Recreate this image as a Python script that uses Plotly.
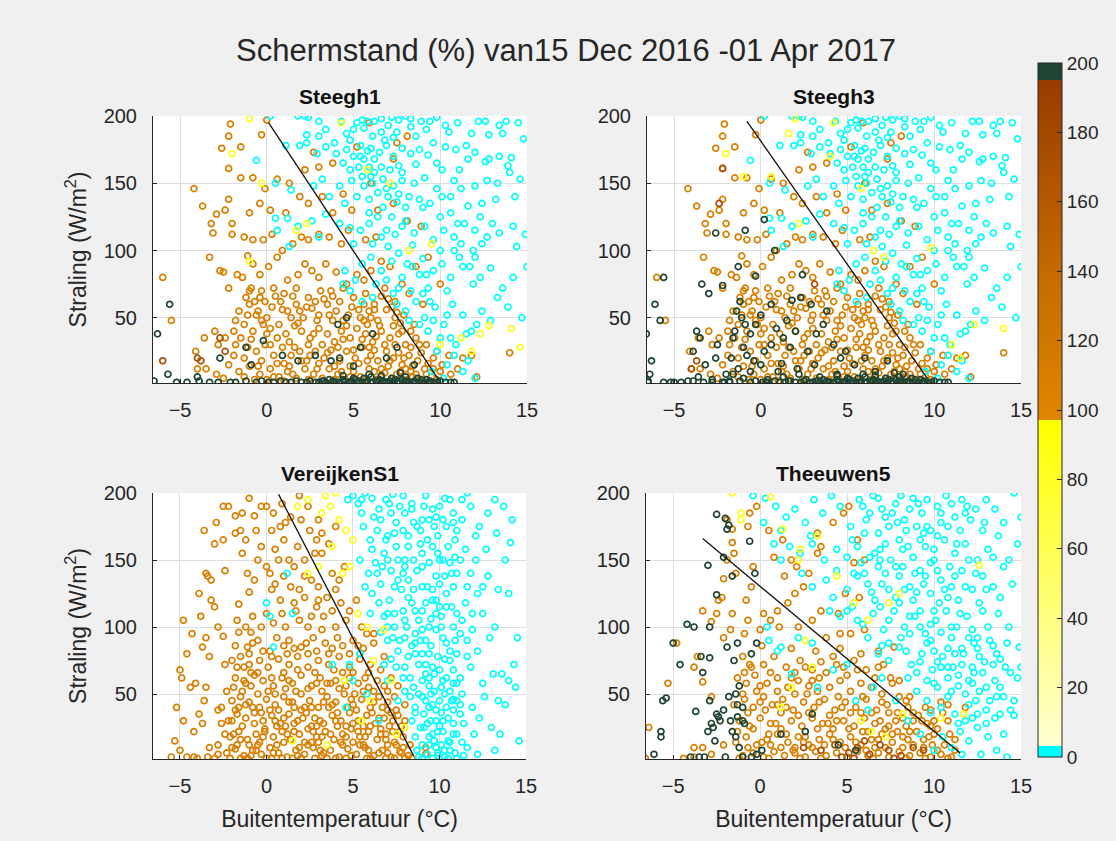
import plotly.graph_objects as go

# ---------------- data (approximate) ----------------
TITLE = "Schermstand (%) van15 Dec 2016 -01 Apr 2017"
PANEL_NAMES = ["Steegh1", "Steegh3", "VereijkenS1", "Theeuwen5"]
X_TICKS = [-5, 0, 5, 10, 15]
Y_TICKS = [50, 100, 150, 200]
CBAR_TICKS = [0, 20, 40, 60, 80, 100, 120, 140, 160, 180, 200]

# screen position (%) per class
VAL_CYAN, VAL_YELLOW, VAL_ORANGE, VAL_BROWN, VAL_GREEN = 0, 88, 108, 172, 200

# ---- Steegh1 / Steegh3 share the same weather (x: temp, y: radiation) ----
S1_cyan = [(0.2,200),(1.8,200),(2.2,200),(2.4,199),(3.0,196),(4.3,196),(5.2,195),(5.5,197),(5.8,196),(6.2,196),
 (6.6,198),(7.2,199),(7.6,197),(8.0,200),(8.3,198),(8.9,196),(9.4,196),(9.8,199),(10.3,193),(11.0,195),(12.2,196),
 (12.6,196),(13.4,193),(13.8,196),(14.5,195),(2.3,186),(3.4,190),(4.6,187),(5.0,190),(5.6,191),(6.1,185),(6.6,188),
 (7.0,193),(7.5,188),(8.3,192),(9.2,190),(10.5,188),(11.8,187),(12.8,186),(13.6,187),(14.8,183),
 (1.9,178),(2.3,180),(3.4,177),(4.0,172),(4.6,175),(5.0,170),(5.4,170),(5.8,174),(6.2,168),(6.5,173),(6.9,178),
 (7.3,170),(7.8,176),(8.3,172),(8.8,175),(9.3,171),(9.8,165),(10.3,177),(10.9,175),(11.5,178),(12.0,173),(12.8,168),
 (13.4,170),(14.1,169),(4.4,165),(5.3,162),(5.9,162),(6.6,162),(7.6,163),(8.6,164),(10.1,160),(11.1,160),(12.6,166),
 (13.9,163),(-0.6,167),(1.1,178),(2.9,172),
 (3.2,153),(4.2,148),(4.9,152),(5.5,155),(6.1,150),(6.7,153),(7.3,148),(7.8,152),(8.5,150),(9.1,154),(9.8,146),
 (10.6,140),(11.2,146),(12.0,148),(12.7,152),(13.3,150),(14.0,158),(14.6,153),(5.2,140),(5.9,138),(6.4,143),(7.0,140),
 (7.5,136),(8.2,140),(8.8,138),(9.4,135),(11.6,133),(12.4,135),(13.2,138),(14.3,140),(0.5,150),(1.4,145),(2.7,148),
 (3.6,140),(4.5,135),
 (0.5,124),(1.2,124),(1.8,118),(2.6,122),(3.0,110),(3.4,127),(4.2,120),(4.8,117),(5.4,115),(5.9,120),(6.4,125),
 (6.9,115),(7.4,112),(8.0,122),(8.5,113),(9.1,118),(9.6,108),(10.2,115),(10.8,110),(11.4,120),(12.0,115),(12.7,110),
 (13.4,113),(14.2,118),(14.9,112),(5.0,105),(6.1,105),(7.0,103),(8.4,104),(10.0,100),(11.2,105),(12.4,105),(14.4,103),
 (0.6,115),(1.3,103),
 (4.5,85),(5.5,90),(6.0,95),(6.6,85),(7.2,92),(7.8,80),(8.4,88),(9.0,94),(9.6,85),(10.1,90),(10.6,80),(11.1,95),
 (11.7,88),(12.3,80),(12.9,87),(13.6,72),(14.2,80),(15.0,88),(5.1,78),(6.3,75),(9.3,72),(10.4,70),(11.9,75),(7.6,72),
 (7.5,60),(8.0,55),(8.6,62),(9.1,50),(9.7,58),(10.2,45),(10.7,60),(11.3,52),(11.8,40),(12.4,55),(12.9,48),(13.3,65),
 (13.9,58),(14.7,50),(10.0,35),(10.9,30),(11.5,38),(12.1,45),(8.8,45),(9.3,40),(4.8,70),(5.5,62),(6.1,65),(4.4,75),
 (9.8,25),(10.4,15),(10.8,22),(11.3,10),(11.6,18),(12.0,5),(9.5,10),(10.2,5),
 (4.8,182),(5.4,178),(6.0,176),(6.8,182),(7.1,160),(7.8,158),(5.6,148),(6.2,158),(6.9,146),(7.6,142),(8.0,132),
 (6.7,132),(5.9,128),(7.2,125),(7.8,118),(6.6,110),(7.6,98),(8.1,90),(8.8,82),(6.9,78),(7.3,68),(8.3,70),(9.0,68),
 (9.4,62),(8.2,48),(9.6,48),(10.4,52),(10.6,35),(9.2,82),(10.8,100),(11.3,88),(12.0,95),(9.0,132),(10.0,125),
 (10.6,128),(11.0,120),(12.3,125),(13.0,120),(11.9,100),(10.1,140),(10.8,152),(11.6,168),(9.6,180),(8.6,185),
 (7.3,184),(3.9,180),(3.0,185),(4.8,160),(5.6,168),(6.0,155)]

S1_orange = [(-2.1,194),(0.0,197),(-0.3,186),(-2.2,185),(-2.6,176),(-1.5,177),(-2.2,161),(-1.5,154),(-0.8,154),
 (-0.1,146),(0.6,153),(1.3,150),(2.2,160),(2.7,173),(3.0,162),(3.8,165),(5.2,177),(5.9,195),(6.0,150),(7.5,180),
 (8.1,185),(7.3,168),(-4.2,146),(-3.7,133),(-2.2,138),(-2.4,130),(-2.9,127),(-3.2,120),(-2.0,120),(-1.0,128),
 (-0.4,135),(0.2,130),(1.1,128),(1.9,140),(2.4,135),(3.2,140),(3.8,128),(4.4,142),(4.9,130),(6.4,130),(7.3,135),
 (-3.1,113),(-2.0,112),(-1.3,110),(-0.8,108),(-0.2,108),(0.3,112),(0.9,100),(1.5,105),(2.0,110),(2.4,108),(3.0,112),
 (3.6,110),(4.3,105),(4.7,115),(5.7,108),(6.3,110),(8.1,122),(8.9,118),
 (-3.3,95),(-2.7,85),(-2.5,84),(-1.7,82),(-1.1,96),(-0.8,90),(-0.4,82),(-1.4,80),(0.1,88),(0.6,95),(1.2,78),(1.8,82),
 (2.2,90),(2.6,85),(3.0,80),(3.4,90),(4.0,84),(4.6,75),(5.2,82),(5.6,78),(6.0,85),(6.6,92),(7.1,88),(7.8,75),(8.6,88),
 (9.3,95),(-6.0,80),(-2.2,72),(-1.0,70),(-0.3,70),(0.4,72),(1.0,68),(1.7,72),(2.4,65),(3.1,70),(3.8,66),(4.4,72),
 (5.0,65),(5.7,68),(6.2,60),(6.8,72),(7.4,62),(8.2,68),(9.0,60),(10.0,75),
 (-1.6,55),(-1.0,60),(-0.5,55),(-0.1,62),(0.3,58),(0.8,62),(1.2,55),(1.7,60),(2.1,50),(2.6,57),(3.0,52),(3.5,60),
 (4.0,55),(4.4,48),(4.9,58),(5.4,50),(5.9,55),(6.4,48),(6.9,56),(7.4,50),(7.9,52),(8.5,45),(-1.3,45),(-0.8,40),
 (-0.3,48),(0.2,42),(0.7,45),(1.1,38),(1.6,44),(2.0,40),(2.5,35),(3.0,42),(3.5,38),(3.9,32),(4.3,40),(4.8,35),(5.2,42),
 (5.7,38),(6.1,32),(6.6,40),(7.1,35),(7.6,38),(8.0,30),(8.6,35),(9.2,30),(-3.0,40),(-2.8,30),(-3.6,35),(-4.1,25),
 (-2.4,35),(-1.8,30),(-1.1,28),(-0.6,25),(-0.1,30),(0.4,22),(0.9,28),(1.4,22),(1.9,25),(2.3,18),(2.8,25),(3.3,20),
 (3.7,26),(4.2,18),(4.6,25),(5.1,20),(5.5,28),(6.0,22),(6.4,18),(6.9,25),(7.3,20),(7.8,15),(8.2,22),(8.7,18),(9.1,12),
 (9.6,20),(10.1,15),(10.6,8),(11.3,20),(11.8,22),(12.1,6),(-3.5,12),(-2.9,8),(-2.2,15),(-1.6,10),(-1.0,14),(-0.4,8),
 (0.2,12),(0.7,6),(1.2,10),(1.7,5),(2.2,12),(2.7,8),(3.2,5),(3.6,12),(4.1,8),(4.5,4),(5.0,10),(5.4,6),(5.9,12),(6.3,4),
 (6.8,9),(7.2,5),(7.7,10),(8.1,4),(8.6,8),(9.0,3),(9.5,6),(10.0,10),(-0.9,72),(14.0,24),(-4.0,12),(-5.5,48),
 (-1.2,65),(0.0,50),(1.5,66),(2.8,62),(4.2,62),(5.6,60),(7.0,64),(-1.9,40),(3.2,30),(5.8,45),(7.3,44),(8.3,40),
 (-0.7,62),(0.5,66),(1.9,55),(3.3,64),(4.7,52),(6.2,56),(7.7,46),(-1.5,35),(0.0,38),(1.3,32),(2.7,38),(4.1,28),
 (5.5,34),(6.8,30),(8.3,28),(9.8,25),(-0.3,18),(1.0,16),(2.5,22),(3.9,14),(5.3,16),(6.6,12),(8.0,12),(9.3,16),
 (10.5,22),(-2.5,5),(-1.3,6),(0.0,4),(1.5,8),(2.9,12),(4.3,10),(5.7,4),(7.0,14),(8.4,6),(9.8,4),(11.0,12),(-1.8,48),
 (-0.6,52),(1.4,50),(3.8,48),(6.0,50),(7.2,58),(5.0,26),(6.2,26),(7.6,24),(8.9,24),
 (-1.1,52),(-0.2,45),(0.6,35),(1.8,46),(2.9,48),(3.6,52),(4.6,44),(5.6,48),(6.5,44),(7.8,40),(-0.9,34),(0.2,30),
 (1.6,28),(2.4,30),(3.5,24),(4.4,34),(5.9,28),(6.3,36),(7.4,30),(8.8,30),(-1.3,20),(-0.5,14),(0.6,16),(1.3,14),
 (2.0,18),(3.0,16),(4.8,14),(5.8,18),(6.2,10),(7.1,18),(7.9,20),(8.4,14),(9.6,12),(-1.9,22),(-0.7,4),(0.4,6),(1.0,3),
 (2.4,4),(3.9,4),(4.8,6),(6.6,6),(7.5,8),(8.3,10),(9.2,8),(-0.4,65),(0.9,56),(2.3,58),(3.7,70),(5.3,56),(6.6,66),
 (7.5,54)]

S1_brown = [(-4.0,20),(-3.8,18),(-2.7,35),(-2.4,25),(-6.0,18)]

S1_green = [(-6.5,3),(-5.2,2),(-4.6,2),(-3.9,3),(-3.3,2),(-2.1,2),(-1.2,3),(-0.6,2),(0.1,2),(0.8,3),(1.4,2),(2.0,2),
 (2.5,3),(3.0,2),(3.4,2),(3.8,3),(4.2,2),(4.5,2),(4.9,3),(5.2,2),(5.5,2),(5.8,3),(6.1,2),(6.4,2),(6.7,3),(7.0,2),
 (7.3,2),(7.6,3),(7.9,2),(8.2,2),(8.5,3),(8.8,2),(9.1,2),(9.4,3),(9.8,2),(10.3,2),(10.8,2),(3.6,4),(5.0,5),(6.0,6),
 (7.2,5),(8.0,6),(8.7,5),(-2.8,2),(-1.8,2),(-0.3,3),(0.4,2),(1.1,2),(1.7,3),(2.3,2),(2.8,2),(3.2,3),(4.0,2),(4.7,2),
 (5.1,4),(5.7,2),(6.3,3),(6.9,2),(7.4,4),(8.0,2),(8.6,2),(9.2,4),(9.6,2),(10.0,3),(10.6,2),
 (3.3,3),(3.9,2),(4.4,4),(4.8,2),(5.3,3),(5.6,5),(6.0,2),(6.5,4),(6.8,2),(7.1,3),(7.5,2),(7.8,4),(8.1,3),(8.4,2),
 (8.9,4),(9.3,2),(5.9,8),(6.6,7),(7.7,9),(4.4,7),
 (-6.3,38),(-5.6,60),(-5.7,8),(-4.0,6),(-2.7,20),(-1.2,28),(-0.9,15),(-0.2,33),(0.9,22),
 (1.8,18),(2.8,22),(3.7,18),(4.6,50),(4.2,20),(5.4,28),(6.1,38),(6.9,20),(7.5,28),(8.5,15),(4.1,45),(5.0,14)]

S1_yellow = [(-1.0,198),(-2.0,172),(-0.3,150),(1.7,115),(2.3,120),(4.3,195),(5.8,160),(8.2,100),(9.5,105),(10.0,30),
 (11.2,35),(11.8,25),(12.3,38),(12.8,44),(14.1,42),(14.6,28),(7.1,150),(-1.0,92)]

S3_cyan = S1_cyan
S3_orange = S1_orange
S3_brown = [(-2.2,161),(-2.4,135),(-3.7,18),(-4.0,12),(3.1,75)]
S3_green = [(-1.3,88),(-0.9,115),(-2.6,113),(-2.2,74),(-3.4,75),(-3.0,68),(-5.6,80),(-6.1,60),(-5.8,48),(-6.3,18),
 (-6.4,8),(-6.6,38),(-3.7,40),(-3.5,35),(-3.9,25),(-3.2,15),(-2.6,20),(-2.5,30),(-1.6,35),(-1.4,55),(-1.1,50),
 (-0.9,45),(-0.6,38),(-0.3,45),(-1.0,28),(-1.7,20),(-1.3,12),(-0.6,10),(0.2,25),(0.6,60),(0.9,42),(1.3,35),(1.7,28),
 (2.0,40),(2.3,65),(1.5,48),(0.8,100),(2.7,25),(3.1,15),(3.6,45),(3.8,55),(4.2,30),(4.6,20),(5.4,15),(6.0,20),
 (7.3,18),(2.4,82),(0.2,123),(-0.3,81),(1.8,63),(2.9,60),(-1.5,40),(-0.8,22),(0.0,15),(1.0,10),(2.2,8),(-2.0,8),
 (-4.2,3),(-3.6,6),(-2.8,4),(-1.8,3),(-5.0,2),(-5.6,2),(-6.5,2),(-1.0,5),(0.4,4),(1.6,3),(2.6,4),(3.4,6),(4.4,8),
 (6.6,10),(8.2,8),(3.2,38),(4.9,25),(-1.2,62),(0.0,52),(0.6,30),(-0.4,18),(1.2,16),(-1.6,8),(0.3,2),(1.3,6),
 (2.1,12),(-2.2,2)] + S1_green[:85]
S3_yellow = [(-2.0,172),(-1.0,155),(0.6,155),(1.6,187),(2.0,198),(4.2,195),(2.2,120),(5.8,146),(6.5,100),(7.1,95),
 (9.8,102),(11.0,30),(11.5,20),(12.3,45),(14.0,42),(4.0,170)]

# ---- VereijkenS1 ----
V_orange = [(-5.3,15),(-5.2,40),(-5.0,68),(-4.9,62),(-4.8,105),(-4.6,80),(-4.4,55),(-4.1,58),(-3.8,108),(-3.6,172),
 (-3.5,140),(-3.4,138),(-3.2,135),(-3.0,162),(-3.2,120),(-3.0,115),(-2.8,100),(-2.5,93),(-3.5,92),(-3.7,85),(-3.3,78),
 (-3.5,55),(-3.6,45),(-3.9,35),(-4.2,22),(-3.7,28),(-4.6,3),(-4.2,3),(-3.3,10),(-2.8,38),(-2.4,142),(-2.5,165),
 (-2.5,190),(-2.2,190),(-1.8,183),(-1.5,172),(-1.8,170),(-1.4,155),(-1.2,165),(-1.0,196),(-0.7,183),(-0.6,172),
 (-1.1,140),(-1.6,117),(-1.0,126),(-0.7,135),(-0.3,160),(-0.5,150),(0.0,145),(-2.4,72),(-2.0,75),(-1.7,70),(-1.9,55),
 (-2.3,52),(-2.6,40),(-2.0,30),(-2.4,20),(-2.8,12),(-2.0,10),(-2.8,5),(-3.0,2),(-5.5,3),(-4.0,2),
 (-0.3,190),(0.0,190),(0.4,185),(0.8,175),(1.1,178),(0.3,172),(0.5,158),(1.0,165),(1.4,182),(1.9,198),(2.4,190),
 (2.5,172),(2.9,165),(3.0,180),(3.2,155),(3.6,162),(2.2,150),(1.6,145),(0.7,150),(0.2,140),(1.0,138),(1.4,130),
 (1.9,128),(2.6,135),(3.0,130),(3.8,140),(4.2,135),(4.5,145),(4.0,175),(1.8,160),(0.3,128),(0.8,120),(1.6,118),
 (2.2,122),(2.9,115),(3.3,108),(3.8,112),(4.3,118),(5.2,120),(-0.8,108),(-0.3,100),(0.4,103),(-1.2,100),(-1.7,105),
 (1.1,100),(1.9,105),(2.4,100),(3.2,98),(4.0,100),(4.6,105),(5.5,100),(5.8,95),(6.2,95),
 (-1.1,85),(-0.8,88),(0.6,92),(1.3,90),(2.0,85),(2.7,92),(3.4,88),(4.1,92),(5.0,90),(6.2,88),
 (-1.5,78),(-1.0,72),(-0.4,75),(0.1,70),(0.7,76),(1.3,72),(1.8,78),(2.4,70),(3.0,75),(3.6,72),(4.2,78),(4.8,70),
 (5.4,76),(6.0,72),(6.6,68),(7.2,62),
 (-1.8,62),(-1.2,58),(-0.7,64),(-0.2,60),(0.4,56),(0.9,62),(1.5,58),(2.0,64),(2.6,56),(3.1,62),(3.7,58),(4.2,54),
 (4.8,62),(5.3,58),(5.9,55),(6.4,60),(7.0,52),(7.6,56),
 (-2.0,45),(-1.5,48),(-1.0,44),(-0.5,50),(0.0,46),(0.5,42),(1.0,48),(1.5,44),(2.0,50),(2.5,45),(3.0,40),(3.5,48),
 (4.0,44),(4.5,50),(5.0,42),(5.5,46),(6.0,40),(6.5,48),(7.0,44),(7.5,38),(8.0,42),
 (-2.2,30),(-1.7,35),(-1.2,32),(-0.7,36),(-0.2,30),(0.3,34),(0.8,28),(1.3,35),(1.8,30),(2.3,36),(2.8,32),(3.3,28),
 (3.8,34),(4.3,30),(4.8,36),(5.3,30),(5.8,34),(6.3,28),(6.8,32),(7.3,30),(7.8,26),
 (-2.1,18),(-1.6,22),(-1.1,16),(-0.6,20),(-0.1,24),(0.4,18),(0.9,22),(1.4,16),(1.9,20),(2.4,24),(2.9,18),(3.4,22),
 (3.9,16),(4.4,20),(4.9,24),(5.4,18),(5.9,22),(6.4,16),(6.9,20),(7.4,14),(7.9,18),(8.3,12),
 (-2.3,6),(-1.8,9),(-1.3,4),(-0.8,8),(-0.3,5),(0.2,10),(0.7,6),(1.2,3),(1.7,8),(2.2,5),(2.7,10),(3.2,4),(3.7,8),
 (4.2,3),(4.7,9),(5.2,5),(5.7,10),(6.2,4),(6.7,8),(7.2,3),(7.7,7),(8.2,4),(9.2,5),(9.2,10),
 (-1.4,52),(-0.9,66),(0.2,82),(1.1,54),(2.2,40),(3.2,52),(4.4,66),(5.6,52),(6.7,40),(-0.4,40),(0.6,26),(1.6,40),
 (2.6,26),(3.6,40),(4.6,26),(5.6,12),(6.6,24),(-1.0,12),(0.0,2),(1.0,14),(2.0,2),(3.0,14),(4.0,2),(5.0,14),(6.0,2),
 (7.0,12),(8.0,2),
 (-1.3,70),(-0.5,66),(0.3,62),(1.0,66),(1.8,68),(2.8,66),(3.9,68),(5.0,66),(-1.6,40),(-0.8,40),(0.7,38),(2.0,38),
 (3.3,44),(4.7,40),(6.2,44),(7.2,36),(-1.9,20),(-0.4,14),(1.1,26),(2.6,14),(4.1,26),(5.6,26),(7.1,26),(8.0,30),
 (-1.5,2),(-0.5,12),(0.9,2),(2.4,12),(3.5,2),(5.4,12),(6.9,2),(7.5,12),(-0.2,82),(1.6,84),(2.9,82),(4.4,86),(5.6,84),
 (6.8,78),(-0.9,96),(0.9,110),(2.6,108),(4.8,112),(0.5,132),(2.2,138),(3.5,122),(1.3,150),(2.8,155),(3.2,170),
 (2.0,180),(0.9,192),(-1.4,185),(-2.9,178),(-3.9,125),(-4.3,95),(-4.8,30),(-5.0,8),(-3.4,3),(-2.6,28),
 (-1.0,80),(0.3,78),(1.2,80),(2.4,80),(3.6,80),(4.8,80),(5.9,66),(-1.3,60),(0.1,52),(1.3,60),(2.4,54),(3.5,58),
 (4.6,56),(5.7,62),(6.8,56),(7.4,48),(-1.8,38),(-0.3,36),(1.0,32),(2.1,32),(3.1,30),(4.1,36),(5.2,38),(6.5,32),
 (7.6,34),(-1.4,26),(-0.1,22),(1.6,22),(2.7,22),(3.7,20),(4.6,18),(5.7,18),(6.9,16),(7.7,22),(-1.7,12),(-0.6,8),
 (0.6,12),(1.9,10),(3.1,8),(4.4,12),(5.9,8),(7.0,6),(7.9,10),(-2.1,2),(-1.1,2),(0.3,2),(1.5,2),(2.8,2),(4.6,2),
 (5.8,2),(7.4,2),(8.4,2),
 (-0.9,56),(0.5,50),(1.7,52),(2.9,58),(4.0,60),(5.1,50),(6.2,52),(-1.2,42),(0.2,38),(1.3,44),(2.6,40),(3.8,42),
 (4.9,46),(6.1,36),(7.0,38),(-0.7,28),(0.5,30),(1.6,28),(2.9,26),(4.0,30),(5.0,28),(6.0,26),(7.3,22),(-1.5,16),
 (-0.2,18),(1.2,20),(2.2,14),(3.2,18),(4.3,14),(5.3,22),(6.6,20),(-0.9,4),(0.4,6),(1.8,4),(3.3,6),(4.9,4),(6.5,6),
 (7.8,6),(-0.5,90),(1.0,86),(2.3,88),(3.8,84),(5.3,86),(-1.8,86),(-1.6,96),(0.0,110),(1.7,112),(3.0,120),(4.0,128)]

V_cyan = [(5.0,198),(5.3,192),(5.7,200),(6.1,196),(6.5,188),(6.9,195),(7.3,199),(7.7,190),(8.0,185),(8.5,178),
 (8.9,172),(9.4,180),(9.9,168),(10.4,175),(10.8,185),(11.3,195),(11.8,190),(12.3,175),(12.8,185),(13.2,195),
 (13.7,190),(14.2,180),(11.6,200),(5.6,175),(6.0,165),(6.4,172),(7.0,168),(7.5,178),(8.2,160),(9.0,155),(9.6,160),
 (10.2,150),(10.9,165),(11.5,158),(12.1,150),(12.7,158),(13.3,170),(13.8,150),(14.1,163),(5.4,150),(5.9,140),
 (6.3,148),(6.8,155),(7.2,142),(7.6,150),(8.2,135),(8.7,142),(9.3,130),(9.8,138),(10.4,125),(11.0,140),(11.6,130),
 (12.2,125),(12.8,138),(13.4,128),(14.0,125),(6.1,125),(6.6,132),(7.1,120),(7.8,128),(8.4,118),(9.0,112),(9.6,120),
 (10.1,108),(10.7,115),(11.3,105),(11.9,98),(12.5,110),(13.2,100),(14.5,92),(6.8,108),(7.4,100),(8.0,105),(8.6,95),
 (9.2,90),(9.8,98),(10.4,88),(11.0,80),(11.6,90),(12.2,82),(12.9,92),(13.6,65),(14.3,72),(7.0,90),(7.6,82),(8.2,78),
 (8.8,72),(9.4,80),(10.0,68),(10.6,75),(11.2,62),(11.8,70),(12.5,58),(13.1,65),(14.0,60),(14.4,55),(7.9,62),(8.5,55),
 (9.0,60),(9.5,50),(10.1,55),(10.7,45),(11.3,50),(11.9,40),(12.3,32),(13.0,25),(13.8,42),(8.6,40),(9.1,35),(9.6,42),
 (10.2,30),(10.8,38),(11.4,28),(12.0,20),(8.9,25),(9.4,18),(9.9,22),(10.5,15),(11.0,20),(11.6,10),(12.2,5),(8.7,8),
 (9.3,5),(9.8,10),(10.3,3),(10.9,6),(13.2,8),(14.6,15),(13.5,20),(5.5,185),(4.7,195),(12.1,168),(7.9,198),
 (0.0,118),(0.2,108),(0.4,85),(1.2,140),(1.5,110),(4.8,72),(5.4,80),(5.0,60),(4.6,40),(6.5,30),(5.8,50),(3.8,72),
 (6.2,182),(7.2,185),(8.4,192),(9.2,198),(10.0,190),(6.7,145),(7.9,140),(9.0,145),(10.0,150),(7.4,110),(8.6,112),
 (9.8,110),(8.0,92),(9.6,70),(10.8,58),(8.3,48),(9.4,62),(9.8,30),(10.4,40),(9.0,12),(10.1,12),(8.8,3),(9.6,2),
 (10.6,8),(11.2,35),(12.6,48),(13.4,45),(6.0,110),(5.7,130),(6.6,96),(7.2,76),(7.0,60),(7.6,45),(6.8,72),
 (5.5,195),(6.6,180),(7.1,192),(7.9,172),(8.4,188),(9.0,180),(9.6,188),(10.2,180),(10.6,195),(11.0,172),(6.1,158),
 (6.9,165),(7.5,160),(8.5,150),(9.3,165),(10.5,160),(11.2,150),(6.4,140),(7.0,150),(8.0,150),(9.0,130),(10.0,132),
 (10.7,140),(11.8,140),(12.5,130),(6.5,118),(7.4,130),(8.2,122),(9.2,118),(10.4,115),(11.5,118),(7.0,100),(7.9,112),
 (8.8,105),(9.5,106),(10.8,100),(11.9,110),(7.7,90),(8.4,86),(9.0,98),(10.2,92),(10.9,90),(8.0,70),(8.6,80),(9.2,72),
 (9.9,78),(10.4,62),(11.6,78),(8.8,50),(9.4,56),(10.0,45),(10.6,52),(11.2,42),(8.4,30),(9.2,45),(9.8,38),(10.5,32),
 (11.0,45),(8.6,18),(9.1,25),(9.5,30),(10.2,22),(10.8,28),(11.3,14),(9.0,2),(9.9,4),(10.5,2),(11.4,4),
 (8.2,168),(9.7,175),(10.8,178),(7.4,170),(8.9,162),(9.9,155),(10.6,148),(7.6,135),(8.5,128),(9.6,128),(10.3,138),
 (7.0,110),(8.1,100),(9.4,100),(10.0,115),(11.0,110),(7.3,92),(8.6,88),(9.5,86),(10.6,82),(7.5,70),(8.3,62),(9.7,65),
 (10.8,68),(8.0,52),(9.0,48),(10.3,50),(11.0,58),(8.6,36),(9.4,40),(10.1,36),(10.8,20),(9.7,15),(10.3,8),(9.4,12),
 (9.1,190),(10.3,196),(8.7,175),(9.8,182),(11.3,180),(8.0,145),(9.4,148),(10.9,152),(9.8,120),(10.8,130),(8.9,90),
 (10.1,100),(11.2,95),(9.0,80),(10.3,76),(9.2,65),(10.2,60),(9.7,52),(10.8,46),(9.3,28),(10.0,26),(9.6,20),
 (10.6,14),(9.9,6),(11.0,2)]

V_yellow = [(1.8,190),(2.4,195),(3.4,198),(4.0,200),(3.7,190),(3.2,185),(4.2,180),(4.6,172),(5.0,165),(4.8,145),
 (4.4,140),(3.0,145),(2.4,140),(5.3,110),(5.8,100),(6.8,98),(6.2,75),(7.2,60),(6.0,45),(5.5,30),(7.5,20),(3.5,12),
 (1.5,15),(8.0,25),(4.5,60),(3.8,160)]

V_brown = []
V_green = []

# ---- Theeuwen5 ----
T_green = [(-6.1,5),(-5.7,22),(-5.7,18),(-5.6,45),(-5.4,47),(-5.0,88),(-4.6,72),(-4.2,102),(-3.8,100),(-3.7,37),
 (-3.4,78),(-3.3,66),(-2.9,77),(-2.9,45),(-3.5,3),(-3.2,3),(-3.0,22),(-2.8,28),(-2.7,25),(-2.5,35),(-2.4,33),
 (-2.6,15),(-2.3,30),(-2.1,38),(-1.7,30),(-1.8,48),(-1.6,22),(-1.4,18),(-1.2,10),(-1.3,42),(-1.4,50),(-1.2,56),
 (-1.0,40),(-0.9,28),(-1.3,33),(-1.5,75),(-1.0,30),(-3.0,146),(-2.5,124),(-2.9,100),(-2.1,152),(-1.9,173),
 (-1.8,176),(-2.0,181),(-2.5,184),(-1.6,138),(-1.9,85),(-1.3,88),(-0.5,80),(-0.2,88),(-0.6,164),(-0.3,140),
 (-0.5,3),(-0.2,5),(0.1,8),(1.2,20),(3.0,35),(2.6,22),(4.5,12),(5.5,8),(-2.0,3),(-1.0,3),(-4.0,3)]

T_orange = [(-1.9,180),(-1.6,173),(-1.6,163),(-1.5,155),(-1.9,150),(-1.4,140),(-2.1,136),(-2.4,120),(-2.2,122),
 (-1.6,110),(-2.5,110),(-2.8,104),(-3.3,112),(-2.1,92),(-1.7,98),(-0.9,95),(-0.7,105),(-0.5,130),(-0.8,120),
 (-0.7,175),(-0.6,185),(-0.4,145),(-0.2,190),(0.5,172),(0.8,152),(1.3,165),(1.8,150),(2.1,145),(1.4,138),(2.5,130),
 (2.8,140),(3.3,155),(3.5,160),(3.3,170),(4.2,178),(4.8,185),(5.1,190),(5.6,165),(5.4,148),(4.9,125),(5.7,122),
 (6.0,150),(2.0,125),(1.6,118),(1.0,112),(0.6,105),(0.2,110),(3.5,112),(4.5,110),(3.0,105),(2.2,100),(1.1,100),
 (0.0,98),(3.8,92),(4.6,95),(5.2,95),(6.0,98),(7.7,85),(6.8,82),(5.8,80),(8.0,60),(8.4,45),(9.5,40),(10.8,42),
 (11.8,40),(-4.8,88),(-3.6,78),(-3.8,70),(-3.3,59),(-5.3,58),(-6.4,25),(-6.6,2),(-3.8,10),(-3.3,10),(-2.8,48),
 (-2.1,12),(-4.4,2),
 (-1.0,78),(-0.6,72),(0.2,72),(0.8,78),(1.5,70),(2.3,75),(3.0,68),(3.5,74),(4.2,78),(4.8,70),(5.4,75),(6.1,68),
 (7.1,72),(7.5,62),
 (-1.3,62),(-0.8,58),(-0.3,64),(0.4,58),(1.0,62),(1.6,55),(2.2,60),(2.8,56),(3.4,62),(4.0,55),(4.6,60),(5.2,52),
 (5.8,58),(6.4,55),(7.0,50),(7.6,58),(8.6,48),
 (-1.5,42),(-0.9,46),(-0.4,40),(0.2,48),(0.7,42),(1.3,46),(1.9,38),(2.5,44),(3.1,40),(3.7,46),(4.3,38),(4.9,44),
 (5.5,40),(6.1,46),(6.7,38),(7.3,42),(7.9,36),(8.5,40),(9.1,34),(9.8,38),(10.4,44),
 (-1.2,30),(-0.6,26),(0.0,32),(0.6,28),(1.2,24),(1.8,30),(2.4,26),(3.0,32),(3.6,28),(4.2,24),(4.8,30),(5.4,26),
 (6.0,32),(6.6,28),(7.2,24),(7.8,30),(8.4,26),(9.0,22),(9.6,28),(10.2,24),(10.8,30),
 (-1.4,14),(-0.8,18),(-0.2,12),(0.4,16),(1.0,20),(1.6,14),(2.2,18),(2.8,12),(3.4,16),(4.0,20),(4.6,14),(5.2,18),
 (5.8,12),(6.4,16),(7.0,20),(7.6,14),(8.2,18),(8.8,12),(9.4,16),(10.0,20),(10.6,12),(11.2,16),
 (-1.0,4),(-0.4,6),(0.2,3),(0.8,7),(1.4,4),(2.0,6),(2.6,3),(3.2,7),(3.8,4),(4.4,6),(5.0,3),(5.6,7),(6.2,4),(6.8,6),
 (7.4,3),(8.0,7),(8.6,4),(9.2,6),(9.8,3),(10.4,5),(11.0,3),(-3.8,3),(-2.8,5),
 (-0.9,66),(0.1,86),(1.8,84),(3.2,82),(4.6,84),(-0.2,52),(1.2,36),(2.7,50),(4.4,30),(5.9,22),(7.4,36),(8.8,30),
 (9.9,12),(-0.7,36),(0.5,20),(2.0,10),(3.3,24),(6.6,10),(7.9,22),
 (-0.5,70),(0.6,66),(1.8,62),(2.6,70),(3.8,66),(5.0,64),(6.6,62),(-1.0,50),(0.0,56),(1.0,52),(2.0,50),(3.3,52),
 (4.5,48),(5.9,48),(7.0,44),(8.0,48),(-1.3,22),(0.3,38),(1.5,20),(2.8,36),(4.0,34),(5.2,36),(6.4,36),(7.6,20),
 (8.8,36),(9.8,26),(10.5,36),(-0.7,10),(0.6,12),(1.9,8),(3.0,10),(4.2,16),(5.5,14),(6.8,16),(8.2,10),(9.4,10),
 (10.2,8),(11.2,8),(-1.2,2),(0.5,2),(2.3,2),(3.5,2),(6.5,2),(8.4,2),(9.5,2),(10.8,2),
 (0.0,44),(1.5,40),(2.2,34),(3.4,44),(4.7,40),(5.8,36),(6.9,30),(8.2,32),(9.3,30),(-0.4,24),(0.9,28),(2.6,18),
 (3.9,28),(5.1,24),(6.2,22),(7.4,26),(8.6,22),(10.0,30),(0.1,14),(1.2,10),(2.5,14),(3.7,12),(4.9,10),(6.1,8),
 (7.2,10),(8.5,16),(9.7,18),(10.9,20),(1.0,42),(2.0,66),(3.0,60),(4.4,72),(5.6,68),(6.8,70)]

T_brown = [(3.5,8),(4.3,12),(5.1,6),(5.6,10),(6.3,5),(6.9,12),(7.4,8),(8.1,4),(8.8,10),(4.7,3),(6.0,15),(2.5,10),
 (7.7,2),(5.4,2),(9.4,8)]

T_cyan = [(-0.4,198),(0.3,196),(0.9,190),(1.5,182),(2.0,188),(2.6,178),(3.1,195),(3.6,185),(4.1,198),(4.6,190),
 (5.2,175),(5.7,195),(6.1,180),(6.5,198),(7.0,188),(7.4,175),(7.8,192),(8.3,180),(8.8,196),(9.3,185),(9.8,172),
 (10.2,190),(10.7,198),(11.2,182),(11.6,195),(12.1,180),(13.0,195),(13.5,188),(14.0,178),(14.6,200),(15.0,182),
 (6.8,170),(8.0,165),(9.0,175),(2.9,168),(1.2,172),(0.2,178),
 (1.7,160),(2.3,155),(3.0,162),(3.7,150),(4.4,158),(5.0,152),(5.6,160),(6.3,152),(6.9,158),(7.5,150),(8.2,158),
 (8.8,152),(9.5,160),(10.0,150),(10.6,165),(11.2,155),(11.8,162),(12.5,150),(13.1,158),(13.7,168),(14.3,150),
 (14.8,162),(1.2,150),(0.8,162),
 (2.4,140),(3.0,130),(3.8,135),(4.4,142),(5.0,128),(5.6,138),(6.2,132),(6.8,145),(7.4,128),(8.0,138),(8.6,130),
 (9.2,142),(9.8,125),(10.4,135),(11.0,130),(11.6,142),(12.2,128),(12.8,138),(13.4,130),(14.0,145),(14.5,132),
 (4.2,122),(6.6,120),(8.8,120),(10.8,122),
 (4.0,112),(4.6,108),(5.3,115),(5.9,102),(6.5,110),(7.1,98),(7.7,112),(8.3,100),(8.9,108),(9.5,95),(10.1,105),
 (10.7,112),(11.3,100),(11.9,108),(12.5,92),(13.1,100),(13.7,110),(14.3,100),(6.2,92),(7.4,88),(8.1,92),(9.8,90),
 (11.0,92),(12.3,88),(14.9,85),
 (6.8,80),(7.4,75),(8.0,85),(8.7,72),(9.3,80),(9.9,68),(10.5,78),(11.1,70),(11.7,80),(12.3,66),(12.9,74),(13.5,60),
 (14.1,70),(14.8,62),(8.5,62),(9.6,60),(10.8,62),(12.0,60),(13.0,55),(15.0,70),(1.2,85),(2.2,92),(0.5,90),
 (9.0,52),(9.6,45),(10.2,55),(10.8,48),(11.4,56),(12.0,42),(12.6,52),(13.2,45),(13.8,55),(14.4,38),(11.2,35),
 (11.8,30),(12.5,35),(13.5,32),(14.6,34),(9.8,36),(14.0,48),
 (11.5,22),(12.0,15),(12.5,25),(13.1,18),(13.6,8),(12.7,5),(11.0,10),(11.6,5),(14.2,3),(10.5,18),(14.0,20),
 (0.4,100),(1.0,82),(1.8,65),(3.3,55),(4.2,68),(5.5,45),(6.2,38),(7.0,62),(5.0,72),(3.0,88),(6.5,55),(7.8,45),
 (8.5,30),(9.2,20),(10.0,8),
 (7.2,182),(8.6,188),(9.6,195),(10.4,178),(11.9,190),(12.8,172),(6.0,140),(7.0,132),(8.2,145),(9.4,132),(10.2,142),
 (11.4,120),(12.6,118),(13.8,122),(5.6,105),(6.9,115),(8.6,95),(9.2,100),(10.4,96),(11.6,84),(13.4,86),(9.0,66),
 (10.2,74),(11.4,64),(12.6,78),(13.8,76),(10.4,40),(11.0,52),(12.2,58),(13.0,38),
 (5.9,190),(6.8,196),(7.6,185),(8.1,198),(9.1,192),(9.6,175),(10.4,185),(11.0,192),(12.4,188),(5.3,165),(6.0,170),
 (7.2,162),(8.4,172),(9.2,165),(10.2,168),(11.5,172),(12.9,178),(5.8,148),(6.6,155),(7.8,145),(8.5,160),(9.8,148),
 (10.9,145),(12.0,150),(13.4,152),(6.4,126),(7.2,140),(8.3,128),(9.5,138),(10.6,128),(11.8,130),(13.0,128),
 (5.0,112),(7.4,105),(8.0,118),(9.2,112),(10.3,118),(11.5,110),(12.8,112),(7.0,86),(8.4,82),(9.6,88),(10.8,84),
 (12.0,92),(13.2,90),(14.2,88),(9.2,74),(10.4,70),(11.6,72),(12.8,66),(14.4,66),(10.0,58),(11.8,50),(12.4,45),
 (13.6,48),(14.6,45),(11.4,28),(12.2,32),(13.0,28),(13.8,35),
 (6.3,185),(7.9,178),(9.4,170),(10.8,175),(11.8,185),(5.4,140),(6.9,150),(8.9,140),(10.0,158),(11.3,162),(7.8,122),
 (9.0,126),(10.0,112),(11.2,138),(12.4,140),(8.6,108),(9.8,102),(11.0,100),(12.2,98),(10.0,82),(11.2,80),(12.5,84),
 (13.6,80),(10.8,70),(12.2,70),(13.4,72)]

T_yellow = [(-1.6,200),(0.6,197),(-1.1,180),(-1.1,185),(1.3,173),(2.3,158),(3.3,168),(4.4,138),(5.4,118),(6.2,105),
 (7.4,118),(8.0,125),(2.6,90),(3.0,70),(1.2,40),(1.8,55),(5.8,30),(6.4,22),(7.2,18),(8.2,35),(10.4,32),(11.7,35),
 (12.6,146),(2.2,150)]

# fitted threshold lines (temperature, radiation) end points per panel
LINES = [((0.1, 9.9), (195, 4)), ((-0.8, 9.6), (196, 5)), ((0.7, 8.5), (199, 4)), ((-3.3, 11.5), (166, 6))]

PANELS = [
    dict(orange=S1_orange, cyan=S1_cyan, yellow=S1_yellow, brown=S1_brown, green=S1_green),
    dict(orange=S3_orange, cyan=S3_cyan, yellow=S3_yellow, brown=S3_brown, green=S3_green),
    dict(orange=V_orange, cyan=V_cyan, yellow=V_yellow, brown=V_brown, green=V_green),
    dict(orange=T_orange, cyan=T_cyan, yellow=T_yellow, brown=T_brown, green=T_green),
]
CLASS_VAL = dict(orange=VAL_ORANGE, cyan=VAL_CYAN, yellow=VAL_YELLOW, brown=VAL_BROWN, green=VAL_GREEN)
DRAW_ORDER = ["orange", "cyan", "yellow", "brown", "green"]

# ---------------- styling ----------------
COLORSCALE = [
    [0.0, "#00ffff"], [0.016, "#00ffff"],
    [0.0161, "#ffffd2"], [0.485, "#ffff00"],
    [0.4851, "#e08600"], [0.70, "#c56a00"], [0.975, "#983b00"],
    [0.9751, "#1f4432"], [1.0, "#1f4432"],
]
FONT = "Liberation Sans, Arial, Helvetica, sans-serif"
TXT = "#262626"
BG = "#f0f0f0"
W, H = 1116, 841

# panel pixel boxes (left, right, top, bottom)
BOXES = [(153, 527, 116, 383), (647, 1021, 116, 383), (153, 526, 493, 759), (646, 1021, 493, 759)]

fig = go.Figure()
first = True
for i, (panel, box) in enumerate(zip(PANELS, BOXES)):
    xa = "x" if i == 0 else f"x{i+1}"
    ya = "y" if i == 0 else f"y{i+1}"
    for cls in DRAW_ORDER:
        pts = panel[cls]
        if not pts:
            continue
        xs = [p[0] for p in pts]
        ys = [p[1] for p in pts]
        cs = [CLASS_VAL[cls]] * len(pts)
        mk = dict(symbol="circle-open", size=6, color=cs, colorscale=COLORSCALE,
                  cmin=0, cmax=200, line=dict(width=1.7))
        if first:
            mk.update(showscale=True, colorbar=dict(
                x=1038 / W, xanchor="left", xref="paper",
                y=1 - 757 / H, yanchor="bottom", yref="paper",
                len=(757 - 63) / H, lenmode="fraction",
                thickness=24, thicknessmode="pixels",
                outlinecolor=TXT, outlinewidth=1,
                tickvals=CBAR_TICKS, ticks="inside", ticklen=5, tickcolor=TXT,
                tickprefix="\u2002",
                tickfont=dict(family=FONT, size=19, color=TXT),
                bgcolor="rgba(0,0,0,0)", xpad=0, ypad=0))
            first = False
        fig.add_trace(go.Scatter(x=xs, y=ys, mode="markers", marker=mk,
                                 xaxis=xa, yaxis=ya, showlegend=False, hoverinfo="skip"))
    (lx, ly) = LINES[i]
    fig.add_trace(go.Scatter(x=list(lx), y=list(ly), mode="lines",
                             line=dict(color="#111111", width=1.3),
                             xaxis=xa, yaxis=ya, showlegend=False, hoverinfo="skip"))

layout = dict(width=W, height=H, paper_bgcolor=BG, plot_bgcolor="white",
              margin=dict(l=0, r=0, t=0, b=0, autoexpand=False), showlegend=False,
              font=dict(family=FONT, color=TXT))
for i, box in enumerate(BOXES):
    l, r, t, b = box
    xk = "xaxis" if i == 0 else f"xaxis{i+1}"
    yk = "yaxis" if i == 0 else f"yaxis{i+1}"
    ya_name = "y" if i == 0 else f"y{i+1}"
    xa_name = "x" if i == 0 else f"x{i+1}"
    axcommon = dict(showgrid=True, gridcolor="#dedede", gridwidth=1, zeroline=False,
                    showline=True, linecolor=TXT, linewidth=1, mirror=False,
                    ticks="inside", ticklen=4, tickcolor=TXT, automargin=False,
                    tickfont=dict(family=FONT, size=20, color=TXT))
    layout[xk] = dict(axcommon, domain=[l / W, r / W], anchor=ya_name, range=[-6.56, 15],
                      tickvals=X_TICKS, ticklabelstandoff=9)
    layout[yk] = dict(axcommon, domain=[1 - b / H, 1 - t / H], anchor=xa_name, range=[1.5, 200],
                      tickvals=Y_TICKS, ticklabelstandoff=11)
    if i >= 2:
        layout[xk]["title"] = dict(text="Buitentemperatuur (°C)",
                                   font=dict(family=FONT, size=23, color=TXT), standoff=14)
    if i % 2 == 0:
        layout[yk]["title"] = dict(text="Straling (W/m<sup>2</sup>)",
                                   font=dict(family=FONT, size=23, color=TXT), standoff=10)

annots = [dict(text=TITLE, x=566 / W, y=1 - 51 / H, xref="paper", yref="paper", showarrow=False,
               font=dict(family=FONT, size=31, color=TXT), xanchor="center", yanchor="middle")]
for name, box in zip(PANEL_NAMES, BOXES):
    l, r, t, b = box
    annots.append(dict(text=f"<b>{name}</b>", x=(l + r) / 2 / W, y=1 - (t - 19) / H, xref="paper", yref="paper",
                       showarrow=False, font=dict(family=FONT, size=21, color="#111111"),
                       xanchor="center", yanchor="middle"))
layout["annotations"] = annots
fig.update_layout(**layout)

fig.write_html("out.html", config={"displayModeBar": False},
               post_script="document.body.style.margin='0px';document.body.style.overflow='hidden';")
